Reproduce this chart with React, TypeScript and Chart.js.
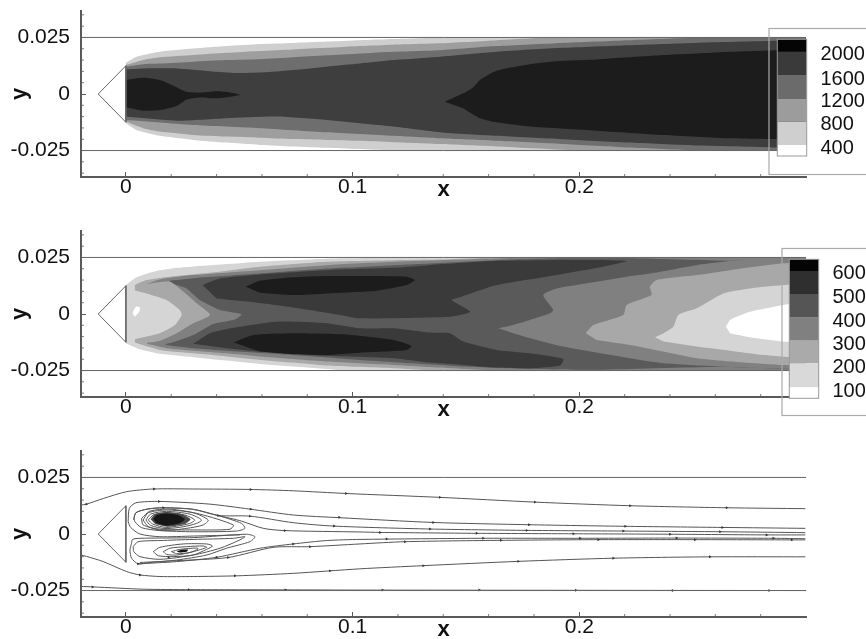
import React, { useEffect, useRef } from "react";
import { Chart, registerables } from "chart.js";

Chart.register(...registerables);

type P = [number, number];

// ---------- axes ----------
const xMajorTicks = [0, 0.1, 0.2];
const xTickLabels = ["0", "0.1", "0.2"];
const xMinorTicks = [0.02, 0.04, 0.06, 0.08, 0.12, 0.14, 0.16, 0.18, 0.22, 0.24, 0.26, 0.28];
const yMajorTicks = [-0.025, 0, 0.025];
const yTickLabels = ["-0.025", "0", "0.025"];
const yMinorTicks = [-0.035, -0.03, -0.02, -0.015, -0.01, -0.005, 0.005, 0.01, 0.015, 0.02, 0.03, 0.035];

// ---------- geometry ----------
const wallTop: P[] = [[-0.0198, 0.025], [0.3, 0.025]];
const wallBottom: P[] = [[-0.0198, -0.025], [0.3, -0.025]];
const wedge: P[] = [[-0.0122, 0], [0, 0.0125], [0, -0.0125], [-0.0122, 0]];

// ---------- panel 1: temperature-like contours ----------
const t1: P[] = [[0, 0.0138], [0.0047, 0.0165], [0.015, 0.0187], [0.0297, 0.0201], [0.0444, 0.0212], [0.0591, 0.0221], [0.0738, 0.0226], [0.0885, 0.0232], [0.1032, 0.0238], [0.1179, 0.0243], [0.1385, 0.025], [0.3, 0.025], [0.3, -0.025], [0.1179, -0.0249], [0.0885, -0.0238], [0.0738, -0.0232], [0.0591, -0.0225], [0.0444, -0.0215], [0.0297, -0.0203], [0.015, -0.0185], [0.0047, -0.0159], [0, -0.0129]];
const t2: P[] = [[0, 0.0128], [0.0076, 0.015], [0.015, 0.0162], [0.0297, 0.0172], [0.0444, 0.0182], [0.0591, 0.019], [0.0738, 0.0197], [0.0885, 0.0204], [0.1032, 0.0212], [0.1179, 0.0218], [0.1385, 0.0224], [0.1635, 0.0238], [0.1856, 0.025], [0.3, 0.025], [0.3, -0.025], [0.2003, -0.025], [0.1635, -0.0232], [0.1385, -0.0221], [0.1179, -0.0213], [0.1032, -0.0207], [0.0885, -0.0203], [0.0738, -0.0199], [0.0591, -0.0193], [0.0444, -0.0188], [0.0297, -0.0181], [0.015, -0.0166], [0.0076, -0.0151], [0, -0.0122]];
const t3: P[] = [[0, 0.0121], [0.0076, 0.0132], [0.015, 0.0135], [0.0297, 0.0143], [0.0444, 0.015], [0.0591, 0.0154], [0.0738, 0.0162], [0.0885, 0.0171], [0.1032, 0.0179], [0.1179, 0.0187], [0.1385, 0.0194], [0.1635, 0.0212], [0.1924, 0.0226], [0.2218, 0.0238], [0.2512, 0.0249], [0.3, 0.025], [0.3, -0.025], [0.2518, -0.025], [0.2218, -0.0237], [0.1924, -0.0221], [0.1635, -0.0207], [0.1385, -0.0196], [0.1179, -0.0185], [0.0885, -0.0169], [0.0591, -0.0151], [0.0297, -0.0137], [0.015, -0.0126], [0, -0.0115]];
const t4: P[] = [[0, 0.0109], [0.0076, 0.0113], [0.0224, 0.0113], [0.0371, 0.0101], [0.0488, 0.0093], [0.0621, 0.0096], [0.0738, 0.0106], [0.0885, 0.0121], [0.1032, 0.0135], [0.1179, 0.015], [0.1385, 0.0165], [0.1635, 0.0187], [0.1924, 0.0204], [0.2218, 0.0216], [0.2512, 0.0226], [0.287, 0.0235], [0.3, 0.0238], [0.3, -0.0247], [0.287, -0.0237], [0.2512, -0.0228], [0.2218, -0.0215], [0.1924, -0.02], [0.1635, -0.0185], [0.1385, -0.0169], [0.1179, -0.0144], [0.0885, -0.0115], [0.0665, -0.01], [0.0444, -0.0107], [0.0224, -0.0118], [0, -0.01]];
const t5a: P[] = [[0, 0.0062], [0.0076, 0.0072], [0.015, 0.0062], [0.0209, 0.0037], [0.0268, 0.001], [0.0326, 0.0006], [0.04, 0.0012], [0.0459, 0.0007], [0.0503, -0.0003], [0.0459, -0.0012], [0.04, -0.0019], [0.0326, -0.0015], [0.0268, -0.0024], [0.0224, -0.0053], [0.015, -0.0071], [0.0076, -0.0074], [0, -0.0059]];
const t5b: P[] = [[0.1407, -0.0034], [0.1488, 0.0003], [0.1532, 0.0029], [0.1562, 0.0062], [0.1635, 0.0103], [0.1782, 0.0132], [0.1929, 0.0147], [0.2076, 0.0153], [0.2371, 0.0172], [0.2665, 0.0187], [0.2871, 0.0194], [0.3, 0.0199], [0.3, -0.0203], [0.2665, -0.0196], [0.2371, -0.0181], [0.2076, -0.0162], [0.1782, -0.0144], [0.1635, -0.0125], [0.1562, -0.0107], [0.1488, -0.0063]];

// ---------- panel 2 contours ----------
const s1: P[] = [[0, 0.0128], [0.0047, 0.0162], [0.0121, 0.0187], [0.0224, 0.0204], [0.0371, 0.0216], [0.0518, 0.0226], [0.0665, 0.0235], [0.0812, 0.0241], [0.0959, 0.0246], [0.1179, 0.025], [0.3, 0.025], [0.3, -0.025], [0.0959, -0.0249], [0.0885, -0.0243], [0.0738, -0.0232], [0.0591, -0.0221], [0.0444, -0.0206], [0.0297, -0.0191], [0.015, -0.0176], [0.0062, -0.0156], [0, -0.0129]];
const s2: P[] = [[0.004, 0.0128], [0.0091, 0.015], [0.0194, 0.0165], [0.0371, 0.0182], [0.0591, 0.0209], [0.0885, 0.0231], [0.1179, 0.0238], [0.1385, 0.0241], [0.1635, 0.025], [0.3, 0.025], [0.3, -0.025], [0.1341, -0.025], [0.1179, -0.024], [0.0885, -0.0228], [0.0738, -0.0215], [0.0591, -0.0203], [0.0444, -0.0188], [0.0297, -0.0174], [0.015, -0.0159], [0.004, -0.0126]];
const s3: P[] = [[0.0088, 0.0132], [0.015, 0.0153], [0.0297, 0.0172], [0.0591, 0.0194], [0.0885, 0.0216], [0.1179, 0.0231], [0.1385, 0.0238], [0.1782, 0.025], [0.3, 0.025], [0.3, -0.025], [0.1635, -0.025], [0.1488, -0.0243], [0.1385, -0.0237], [0.1179, -0.0225], [0.0885, -0.021], [0.0591, -0.0188], [0.0444, -0.0174], [0.0297, -0.0162], [0.0179, -0.0151], [0.0094, -0.0132]];
const s4: P[] = [[0.0194, 0.0147], [0.0341, 0.0162], [0.0591, 0.0179], [0.0885, 0.0201], [0.1179, 0.0216], [0.1385, 0.0226], [0.1635, 0.0238], [0.1929, 0.0246], [0.2218, 0.0246], [0.2679, 0.0235], [0.3, 0.023], [0.3, -0.0245], [0.2606, -0.0234], [0.2076, -0.0246], [0.1782, -0.0243], [0.1488, -0.0232], [0.1385, -0.0225], [0.1032, -0.0203], [0.0738, -0.0181], [0.0444, -0.0162], [0.0297, -0.0151], [0.0176, -0.0137]];
const noseMid: P[] = [[0.0088, 0.0128], [0.0194, 0.0135], [0.0268, 0.0113], [0.0326, 0.0062], [0.0415, 0.0018], [0.051, -0.0001], [0.0481, -0.0024], [0.0385, -0.0044], [0.0297, -0.0093], [0.0179, -0.0132], [0.0094, -0.0126]];
const noseLow: P[] = [[0.004, 0.0121], [0.0088, 0.0132], [0.0194, 0.0143], [0.0253, 0.0099], [0.0312, 0.0047], [0.0371, -0.0004], [0.0297, -0.0041], [0.0224, -0.0085], [0.015, -0.0118], [0.0094, -0.0126], [0.004, -0.0118]];
const noseLight: P[] = [[0, 0.0113], [0.0044, 0.0103], [0.0091, 0.0091], [0.0179, 0.0062], [0.0238, 0.0018], [0.0246, -0.0004], [0.0216, -0.0049], [0.015, -0.0085], [0.0076, -0.0103], [0.004, -0.0112], [0, -0.0122]];
const noseDot: P[] = [[0.0029, 0.0003], [0.0044, 0.0032], [0.0062, 0.0029], [0.0059, 0.001], [0.004, -0.0012]];
const upperDark: P[] = [[0.0338, 0.0128], [0.0415, 0.0157], [0.0591, 0.0175], [0.0885, 0.0194], [0.1179, 0.0204], [0.1341, 0.0216], [0.1635, 0.0235], [0.187, 0.0238], [0.212, 0.0238], [0.2209, 0.0234], [0.2106, 0.0209], [0.1856, 0.0165], [0.1635, 0.0128], [0.1474, 0.0074], [0.1437, 0.0062], [0.1518, 0.001], [0.1429, -0.0012], [0.1341, -0.0015], [0.1032, -0.0019], [0.0944, -0.0004], [0.0738, 0.0029], [0.0547, 0.0054], [0.04, 0.0069]];
const lowerDark: P[] = [[0.0297, -0.0132], [0.0371, -0.0085], [0.0488, -0.0059], [0.0665, -0.0034], [0.0885, -0.0041], [0.1032, -0.0063], [0.1179, -0.0063], [0.1341, -0.0082], [0.1429, -0.0085], [0.1488, -0.0122], [0.1635, -0.0159], [0.1782, -0.0174], [0.1929, -0.0199], [0.1915, -0.0228], [0.1782, -0.024], [0.1635, -0.0237], [0.1488, -0.0225], [0.1341, -0.0215], [0.1179, -0.0196], [0.0885, -0.0185], [0.0591, -0.0166], [0.0444, -0.0151]];
const upperCore: P[] = [[0.0529, 0.0121], [0.0591, 0.0147], [0.0738, 0.0162], [0.0885, 0.0168], [0.1032, 0.0168], [0.1238, 0.0165], [0.1275, 0.015], [0.1238, 0.0128], [0.1106, 0.0103], [0.0885, 0.0091], [0.0738, 0.0084], [0.0591, 0.0094]];
const lowerCore: P[] = [[0.0476, -0.0126], [0.0562, -0.0093], [0.0738, -0.0085], [0.0959, -0.009], [0.1179, -0.0115], [0.126, -0.0141], [0.1238, -0.0159], [0.1032, -0.0171], [0.0885, -0.0181], [0.0738, -0.0178], [0.0591, -0.0166]];
const tongueMid: P[] = [[0.1643, -0.0063], [0.1709, -0.0049], [0.1871, 0.0003], [0.1885, 0.0018], [0.1841, 0.0084], [0.19, 0.0113], [0.2076, 0.0143], [0.2209, 0.0165], [0.2312, 0.0179], [0.2518, 0.0216], [0.2679, 0.0235], [0.2812, 0.0241], [0.3, 0.0241], [0.3, -0.0245], [0.2812, -0.024], [0.2606, -0.0232], [0.2371, -0.0218], [0.2224, -0.0196], [0.1929, -0.0144], [0.1782, -0.0107], [0.1709, -0.0085]];
const tongueLow: P[] = [[0.2029, -0.0085], [0.2062, -0.0049], [0.2194, -0.0004], [0.2209, 0.004], [0.2319, 0.0084], [0.2312, 0.0121], [0.2341, 0.015], [0.2518, 0.0172], [0.2665, 0.0194], [0.29, 0.0224], [0.3, 0.0231], [0.3, -0.0228], [0.2885, -0.0225], [0.2665, -0.021], [0.2518, -0.0196], [0.2371, -0.0166], [0.2224, -0.0137], [0.2076, -0.0115]];
const tongueLight: P[] = [[0.2334, -0.0103], [0.2371, -0.0085], [0.2415, -0.0056], [0.2437, -0.0004], [0.2518, 0.0025], [0.2635, 0.0091], [0.2753, 0.0113], [0.29, 0.0128], [0.3, 0.0135], [0.3, -0.0196], [0.2812, -0.0181], [0.2665, -0.0162], [0.2518, -0.0144], [0.2371, -0.0122]];
const tongueWhite: P[] = [[0.2647, -0.0056], [0.2665, -0.0026], [0.2753, 0.001], [0.29, 0.004], [0.3, 0.0054], [0.3, -0.0129], [0.29, -0.0122], [0.2753, -0.0103], [0.2665, -0.0085]];

// ---------- panel 3 streamlines ----------
const outerTop: P[] = [[-0.0199, 0.0128], [-0.0174, 0.0132], [-0.01, 0.0157], [0.0003, 0.0187], [0.0121, 0.0199], [0.0297, 0.0199], [0.0547, 0.0197], [0.0738, 0.0191], [0.0974, 0.0179], [0.1385, 0.0162], [0.1804, 0.0141], [0.2224, 0.0125], [0.265, 0.0116], [0.2997, 0.0112]];
const outerBottom: P[] = [[-0.0199, -0.0093], [-0.0174, -0.0099], [-0.01, -0.0122], [0.0003, -0.0166], [0.0062, -0.0181], [0.015, -0.0188], [0.0297, -0.0188], [0.0488, -0.0185], [0.0738, -0.0174], [0.1032, -0.0154], [0.1312, -0.014], [0.1731, -0.0121], [0.215, -0.0107], [0.2576, -0.0101], [0.2997, -0.0101]];
const nearWall: P[] = [[-0.0199, -0.0232], [-0.0144, -0.0234], [0.0076, -0.0244], [0.0285, -0.0246], [0.0709, -0.0247], [0.1032, -0.0248], [0.2, -0.0249], [0.3, -0.025]];
const lineA: P[] = [[0.001, 0.0054], [0.0015, 0.0113], [0.0044, 0.0138], [0.015, 0.0144], [0.0371, 0.0132], [0.0547, 0.011], [0.0738, 0.0084], [0.0944, 0.0072], [0.1356, 0.0051], [0.1778, 0.0041], [0.2203, 0.0034], [0.2631, 0.0029], [0.2997, 0.0025]];
const lineB: P[] = [[0.0035, 0.0062], [0.0044, 0.0094], [0.0094, 0.011], [0.0165, 0.0116], [0.0297, 0.0109], [0.0407, 0.0082], [0.0547, 0.0079], [0.0738, 0.005], [0.0915, 0.0035], [0.1341, 0.0022], [0.1768, 0.0016], [0.2194, 0.0013], [0.2621, 0.001], [0.2997, 0.0006]];
const lineC: P[] = [[0.001, 0.0054], [0.0021, 0.0029], [0.0062, 0], [0.015, -0.0012], [0.0297, -0.0009], [0.0503, -0.0004]];
const lineE: P[] = [[0.0407, 0.0082], [0.051, 0.0057], [0.0606, 0.0025], [0.0701, 0.0015], [0.1032, 0.0009], [0.1121, 0.0007], [0.1547, 0.0003], [0.1974, 0.0001], [0.24, -0.0001], [0.2826, -0.0004], [0.2997, -0.0004]];
const lineF: P[] = [[0.0054, -0.0132], [0.0224, -0.0122], [0.04, -0.0103], [0.0591, -0.0063], [0.0738, -0.0044], [0.0885, -0.0029], [0.1032, -0.0024], [0.1576, -0.0019], [0.2003, -0.0019], [0.2429, -0.0018], [0.2856, -0.0019], [0.2997, -0.0021]];
const lineG: P[] = [[0.0062, -0.0126], [0.0224, -0.0118], [0.0451, -0.0104], [0.065, -0.0059], [0.0812, -0.0056], [0.1032, -0.0044], [0.1231, -0.0034], [0.1654, -0.0028], [0.2084, -0.0025], [0.251, -0.0025], [0.2937, -0.0026], [0.2997, -0.0026]];
const loopTri: P[] = [[0.0035, 0.0069], [0.0044, 0.0094], [0.0094, 0.011], [0.0165, 0.0116], [0.0297, 0.0109], [0.0415, 0.0079], [0.051, 0.0047], [0.0525, 0.0025], [0.0488, 0.0013], [0.0297, 0.001], [0.015, 0.0015], [0.0069, 0.0028], [0.004, 0.0054], [0.0035, 0.0069]];
const loopMid: P[] = [[0.0069, 0.0069], [0.0106, 0.0101], [0.0194, 0.011], [0.0326, 0.0088], [0.0474, 0.004], [0.0459, 0.0021], [0.0297, 0.0018], [0.015, 0.0021], [0.0076, 0.004], [0.0069, 0.0069]];
const loopU1: P[] = [[0.0076, 0.0062], [0.0099, 0.0094], [0.0179, 0.0106], [0.0297, 0.0094], [0.0363, 0.0062], [0.0341, 0.004], [0.0268, 0.0025], [0.0165, 0.0015], [0.0099, 0.0032], [0.0076, 0.0062]];
const loopU2: P[] = [[0.0088, 0.0062], [0.0109, 0.0088], [0.0179, 0.01], [0.0282, 0.0088], [0.0334, 0.0062], [0.0312, 0.0047], [0.0253, 0.0032], [0.0172, 0.0024], [0.0109, 0.0038], [0.0088, 0.0062]];
const loopU3: P[] = [[0.0099, 0.0062], [0.0121, 0.0084], [0.0179, 0.0094], [0.026, 0.0084], [0.0304, 0.0062], [0.0282, 0.0047], [0.0238, 0.0037], [0.0176, 0.0029], [0.0118, 0.0044], [0.0099, 0.0062]];
const coreU0: P[] = [[0.0109, 0.0065], [0.0129, 0.0088], [0.0179, 0.0097], [0.0246, 0.0088], [0.0285, 0.0065], [0.026, 0.0044], [0.0182, 0.0032], [0.0129, 0.0044]];
const coreU1: P[] = [[0.0121, 0.0065], [0.0135, 0.0084], [0.0179, 0.0091], [0.0231, 0.0084], [0.026, 0.0065], [0.0238, 0.0047], [0.0179, 0.0037], [0.0135, 0.0047]];
const loopD: P[] = [[0.0025, -0.0041], [0.0029, -0.0024], [0.0062, -0.0019], [0.0297, -0.0016], [0.0532, -0.0001], [0.0569, -0.0012], [0.0547, -0.0034], [0.0444, -0.0063], [0.0356, -0.0093], [0.0224, -0.0115], [0.0106, -0.0126], [0.0054, -0.0132], [0.0025, -0.0107], [0.0018, -0.0071], [0.0025, -0.0041]];
const loopE: P[] = [[0.0032, -0.0056], [0.0054, -0.0034], [0.015, -0.0029], [0.0297, -0.0024], [0.0474, -0.0019], [0.0525, -0.0012], [0.0503, -0.0026], [0.0415, -0.0063], [0.0297, -0.0093], [0.015, -0.0112], [0.0062, -0.01], [0.0035, -0.0078], [0.0032, -0.0056]];
const loopV1: P[] = [[0.0121, -0.0078], [0.015, -0.0059], [0.0253, -0.0044], [0.0356, -0.0044], [0.0382, -0.0053], [0.0356, -0.0068], [0.0297, -0.0093], [0.0209, -0.01], [0.0143, -0.0096], [0.0121, -0.0078]];
const loopV2: P[] = [[0.0165, -0.0078], [0.0194, -0.0063], [0.0268, -0.0056], [0.0341, -0.0053], [0.0356, -0.0059], [0.0297, -0.0078], [0.0224, -0.0093], [0.0179, -0.009], [0.0165, -0.0078]];
const loopV3: P[] = [[0.0201, -0.0078], [0.0238, -0.0068], [0.0312, -0.0062], [0.0319, -0.0066], [0.0282, -0.0082], [0.0224, -0.0087], [0.0201, -0.0078]];
const coreV: P[] = [[0.0224, -0.0076], [0.0253, -0.0069], [0.0275, -0.0069], [0.0268, -0.0078], [0.0235, -0.0082]];
const flowArrows: P[] = [[-0.0174, 0.0132], [0.0124, 0.0199], [0.055, 0.0197], [0.0971, 0.0179], [0.1385, 0.0162], [0.1804, 0.0141], [0.2224, 0.0125], [0.265, 0.0116], [0.0146, 0.0144], [0.055, 0.011], [0.0941, 0.0074], [0.1356, 0.0051], [0.1778, 0.0041], [0.2203, 0.0034], [0.2631, 0.0029], [0.0165, 0.0116], [0.0547, 0.0079], [0.0918, 0.0035], [0.1341, 0.0022], [0.1768, 0.0016], [0.2194, 0.0013], [0.2621, 0.001], [0.0701, 0.0015], [0.1121, 0.0007], [0.1547, 0.0003], [0.1974, 0.0001], [0.24, -0.0001], [0.2826, -0.0004], [0.0738, -0.0044], [0.115, -0.0022], [0.1576, -0.0019], [0.2003, -0.0019], [0.2429, -0.0018], [0.2856, -0.0019], [0.0812, -0.0056], [0.1231, -0.0034], [0.1654, -0.0028], [0.2084, -0.0025], [0.251, -0.0025], [0.2937, -0.0026], [0.0062, -0.0181], [0.0481, -0.0185], [0.09, -0.0163], [0.1312, -0.014], [0.1731, -0.0121], [0.215, -0.0107], [0.2576, -0.0101], [-0.0147, -0.0234], [0.0278, -0.0246], [0.0704, -0.0247], [0.1132, -0.0248], [0.1559, -0.0248], [0.1985, -0.0249], [0.2412, -0.025], [0.2838, -0.025], [0.0407, 0.0082], [0.0054, -0.0132], [0.0188, -0.0103], [0.04, -0.0103], [0.0451, -0.0104]];

// ---------- legends ----------
const legend1Labels = ["2000", "1600", "1200", "800", "400"];
const legend1Colors = ["#050505", "#3a3a3a", "#6b6b6b", "#9c9c9c", "#cfcfcf", "#ffffff"];
const legend2Labels = ["600", "500", "400", "300", "200", "100"];
const legend2Colors = ["#050505", "#2f2f2f", "#555555", "#808080", "#aaaaaa", "#d9d9d9", "#ffffff"];

const FONT = '"Liberation Sans", Arial, sans-serif';
const AXIS = "#5a5a5a";

const pts = (a: P[]) => a.map(([x, y]) => ({ x, y }));
// a vertex on the channel boundary is doubled, so the spline keeps a sharp corner there
const sharpPts = (a: P[]) =>
  a.flatMap(([x, y]) => (x >= 0.3 || x <= 0 || Math.abs(y) >= 0.025 ? [{ x, y }, { x, y }] : [{ x, y }]));
const area = (a: P[], color: string) => ({
  data: sharpPts(a), backgroundColor: color, borderColor: "transparent", borderWidth: 0,
  fill: "shape", pointRadius: 0, tension: 0.2,
});
const stroke = (a: P[], width = 1, color = "#4a4a4a", tension = 0) => ({
  data: pts(a), borderColor: color, borderWidth: width, fill: false, pointRadius: 0, tension,
});
const streamline = (a: P[]) => stroke(a, 1, "#555555", 0.25);

const frameDatasets = () => [stroke(wallTop, 1, "#666666"), stroke(wallBottom, 1, "#666666"), stroke(wedge, 1, "#666666")];

const panel1Sets = () => [
  area(t1, "#cfcfcf"), area(t2, "#9e9e9e"), area(t3, "#6e6e6e"), area(t4, "#3e3e3e"),
  area(t5a, "#1c1c1c"), area(t5b, "#1c1c1c"), ...frameDatasets(),
];
const panel2Sets = () => [
  area(s1, "#d5d5d5"), area(s2, "#a8a8a8"), area(s3, "#808080"), area(s4, "#5a5a5a"),
  area(noseMid, "#808080"), area(noseLow, "#a8a8a8"), area(noseLight, "#d5d5d5"), area(noseDot, "#ffffff"),
  area(upperDark, "#3a3a3a"), area(lowerDark, "#3a3a3a"), area(upperCore, "#1c1c1c"), area(lowerCore, "#1c1c1c"),
  area(tongueMid, "#808080"), area(tongueLow, "#a8a8a8"), area(tongueLight, "#d5d5d5"), area(tongueWhite, "#ffffff"),
  ...frameDatasets(),
];
const panel3Sets = () => [
  ...[outerTop, outerBottom, nearWall, lineA, lineB, lineC, lineE, lineF, lineG,
    loopTri, loopMid, loopU1, loopU2, loopU3, loopD, loopE, loopV1, loopV2, loopV3].map(streamline),
  area(coreU0, "#4a4a4a"), area(coreU1, "#161616"), area(coreV, "#111111"),
  { data: pts(flowArrows), showLine: false, pointStyle: "triangle", rotation: 90, pointRadius: 1.7,
    pointBackgroundColor: "#333333", pointBorderWidth: 0, borderWidth: 0 },
  ...frameDatasets(),
];

const minorTicks = {
  id: "minorTicks",
  beforeDatasetsDraw(chart: any) {
    const { ctx, scales, chartArea } = chart;
    ctx.save();
    ctx.strokeStyle = AXIS;
    ctx.lineWidth = 0.8;
    ctx.beginPath();
    for (const v of xMinorTicks) {
      const p = scales.x.getPixelForValue(v);
      ctx.moveTo(p, chartArea.bottom);
      ctx.lineTo(p, chartArea.bottom - 3);
    }
    for (const v of yMinorTicks) {
      const p = scales.y.getPixelForValue(v);
      ctx.moveTo(chartArea.left, p);
      ctx.lineTo(chartArea.left + 3, p);
    }
    ctx.stroke();
    ctx.restore();
  },
};

type LegendBox = { frame: [number, number, number, number]; swatchX: number; edges: number[]; colors: string[]; labels: string[]; labelX: number; labelY: number[] };

const legendPlugin = (box: LegendBox | null) => ({
  id: "contourLegend",
  afterDraw(chart: any) {
    if (!box) return;
    const { ctx } = chart;
    ctx.save();
    ctx.strokeStyle = "#aaaaaa";
    ctx.lineWidth = 1.2;
    ctx.strokeRect(box.frame[0], box.frame[1], box.frame[2], box.frame[3]);
    const w = 29.4;
    box.colors.forEach((c, i) => {
      ctx.fillStyle = c;
      ctx.fillRect(box.swatchX, box.edges[i], w, box.edges[i + 1] - box.edges[i]);
    });
    ctx.strokeStyle = "#999999";
    ctx.lineWidth = 1;
    ctx.strokeRect(box.swatchX, box.edges[0], w, box.edges[box.edges.length - 1] - box.edges[0]);
    ctx.fillStyle = "#111111";
    ctx.font = `20px ${FONT}`;
    ctx.textAlign = "left";
    ctx.textBaseline = "middle";
    box.labels.forEach((t, i) => ctx.fillText(t, box.labelX, box.labelY[i]));
    ctx.restore();
  },
});

const legend1Box: LegendBox = {
  frame: [769, 28.5, 120, 146], swatchX: 777.3, edges: [39.3, 51.7, 75, 99, 121.7, 145, 156],
  colors: legend1Colors, labels: legend1Labels, labelX: 820.5, labelY: [54, 79, 101, 124, 148],
};
const legend2Box: LegendBox = {
  frame: [782, 28.5, 120, 167], swatchX: 789.3, edges: [39.3, 51, 74, 97.7, 120.7, 143.3, 167.3, 178.3],
  colors: legend2Colors, labels: legend2Labels, labelX: 832.5, labelY: [53, 77, 101, 124, 147, 171],
};

const noPad = (s: any) => { s.paddingTop = 0; s.paddingBottom = 0; s.paddingLeft = 0; s.paddingRight = 0; };

function makeChart(canvas: HTMLCanvasElement, sets: any[], box: LegendBox | null) {
  return new Chart(canvas, {
    type: "line",
    data: { datasets: sets.map((d, i) => ({ ...d, order: -i })) },
    plugins: [minorTicks, legendPlugin(box)],
    options: {
      responsive: false,
      animation: false,
      events: [],
      layout: { padding: { left: 0, right: 60, top: 11, bottom: 0 } },
      plugins: { legend: { display: false }, tooltip: { enabled: false }, title: { display: false } },
      scales: {
        x: {
          type: "linear", min: -0.0198, max: 0.3,
          afterBuildTicks: (s: any) => { s.ticks = xMajorTicks.map((value) => ({ value })); },
          afterFit: (s: any) => { s.height = 43; noPad(s); },
          grid: { drawOnChartArea: false, drawTicks: true, tickLength: -5, tickColor: AXIS, tickWidth: 1 },
          border: { display: true, color: AXIS, width: 2 },
          ticks: {
            autoSkip: false, maxRotation: 0, padding: 3, color: "#111111",
            font: { family: FONT, size: 21 },
            callback: (v: any) => xTickLabels[xMajorTicks.indexOf(v)] ?? "",
          },
          title: { display: true, text: "x", color: "#111111", font: { family: FONT, size: 22, weight: "bold" }, padding: { top: 0, bottom: 17 } },
        },
        y: {
          type: "linear", min: -0.0367, max: 0.0367,
          afterBuildTicks: (s: any) => { s.ticks = yMajorTicks.map((value) => ({ value })); },
          afterFit: (s: any) => { s.width = 81; noPad(s); },
          grid: { drawOnChartArea: false, drawTicks: true, tickLength: -5, tickColor: AXIS, tickWidth: 1 },
          border: { display: true, color: AXIS, width: 2 },
          ticks: {
            autoSkip: false, padding: 16, color: "#111111",
            font: { family: FONT, size: 21 },
            callback: (v: any) => yTickLabels[yMajorTicks.indexOf(v)] ?? "",
          },
          title: { display: true, text: "y", color: "#111111", font: { family: FONT, size: 22, weight: "bold" }, padding: { top: 7, bottom: 7 } },
        },
      },
    } as any,
  } as any);
}

export default function App() {
  const a = useRef<HTMLCanvasElement>(null);
  const b = useRef<HTMLCanvasElement>(null);
  const c = useRef<HTMLCanvasElement>(null);
  useEffect(() => {
    const charts = [
      makeChart(a.current!, panel1Sets(), legend1Box),
      makeChart(b.current!, panel2Sets(), legend2Box),
      makeChart(c.current!, panel3Sets(), null),
    ];
    return () => charts.forEach((ch) => ch.destroy());
  }, []);
  const style = (top: number): React.CSSProperties => ({ position: "absolute", left: 0, top, display: "block" });
  return (
    <div style={{ position: "absolute", left: 0, top: 0, width: 866, height: 639, overflow: "hidden", background: "#fff" }}>
      <canvas ref={a} width={866} height={220} style={style(0)} />
      <canvas ref={b} width={866} height={220} style={style(220)} />
      <canvas ref={c} width={866} height={220} style={style(440)} />
    </div>
  );
}
